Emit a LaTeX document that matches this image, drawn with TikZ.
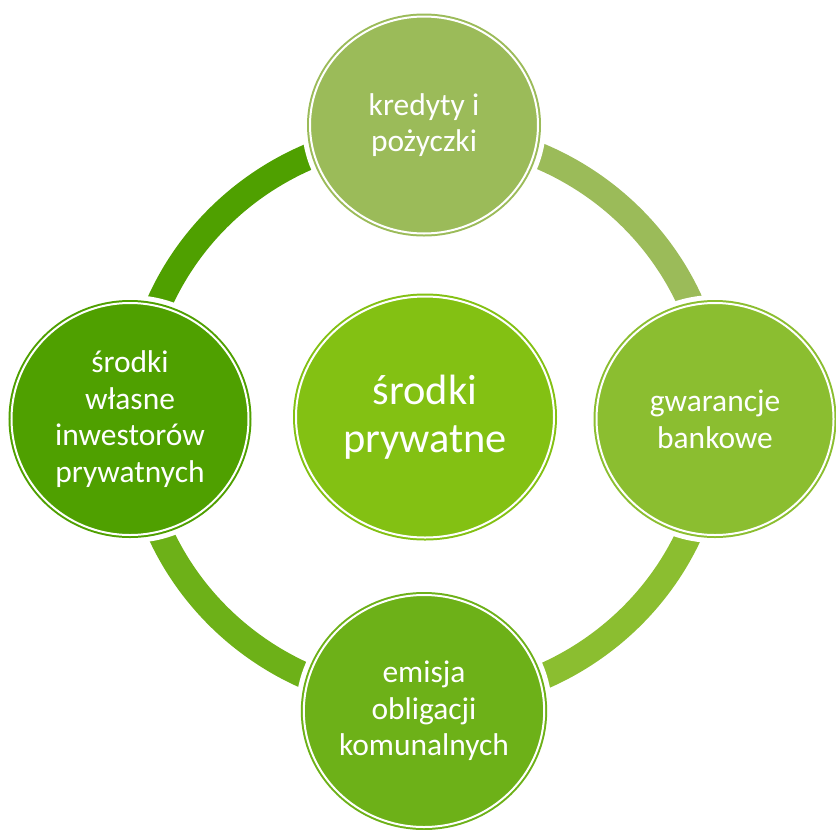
\documentclass[tikz,border=0pt]{standalone}
\usepackage{fontspec}
\setmainfont{Carlito}
\usetikzlibrary{shapes.geometric}
\definecolor{greenHub}{HTML}{83C113}
\definecolor{greenTop}{HTML}{9BBB59}
\definecolor{greenRight}{HTML}{8BBE30}
\definecolor{greenBottom}{HTML}{6DB118}
\definecolor{greenLeft}{HTML}{4FA000}
\begin{document}
\begin{tikzpicture}[x=0.75pt,y=0.75pt,yscale=-1,xscale=1,
    disc/.style={ellipse, fill=#1, draw=#1, double=white, double distance=1.5pt, line width=1.5pt,
        preaction={draw=white, line width=12pt}, text=white, align=center, inner sep=0pt,
        font=\fontsize{23.6}{27.5}\selectfont},
    band/.style={draw=#1, line width=19.5pt}]
        \useasboundingbox (0,0) rectangle (836,829);
        % centre
        \node [disc=greenHub, minimum width=193.5pt, minimum height=180.75pt, font=\fontsize{31.8}{36}\selectfont] (hub) at (425,417) {środki\\prywatne};
        % ring segments
        \draw [band=greenTop] ([shift={(0,-284)}]hub.center) arc [start angle=270, end angle=360, x radius=290, y radius=284];
        \draw [band=greenRight] ([shift={(290,0)}]hub.center) arc [start angle=0, end angle=90, x radius=290, y radius=284];
        \draw [band=greenBottom] ([shift={(0,284)}]hub.center) arc [start angle=90, end angle=180, x radius=290, y radius=284];
        \draw [band=greenLeft] ([shift={(-290,0)}]hub.center) arc [start angle=180, end angle=270, x radius=290, y radius=284];
        % satellites
        \node [disc=greenTop, minimum width=171pt, minimum height=162.75pt] (loans) at (424,125) {kredyty i\\pożyczki};
        \node [disc=greenRight, minimum width=177.75pt, minimum height=174pt] (guarantees) at (715,419) {gwarancje\\bankowe};
        \node [disc=greenBottom, minimum width=177.75pt, minimum height=174pt] (bonds) at (424,711) {emisja\\obligacji\\komunalnych};
        \node [disc=greenLeft, minimum width=177.75pt, minimum height=174pt] (ownfunds) at (130,419) {środki\\własne\\inwestorów\\prywatnych};
    \end{tikzpicture}
\end{document}
